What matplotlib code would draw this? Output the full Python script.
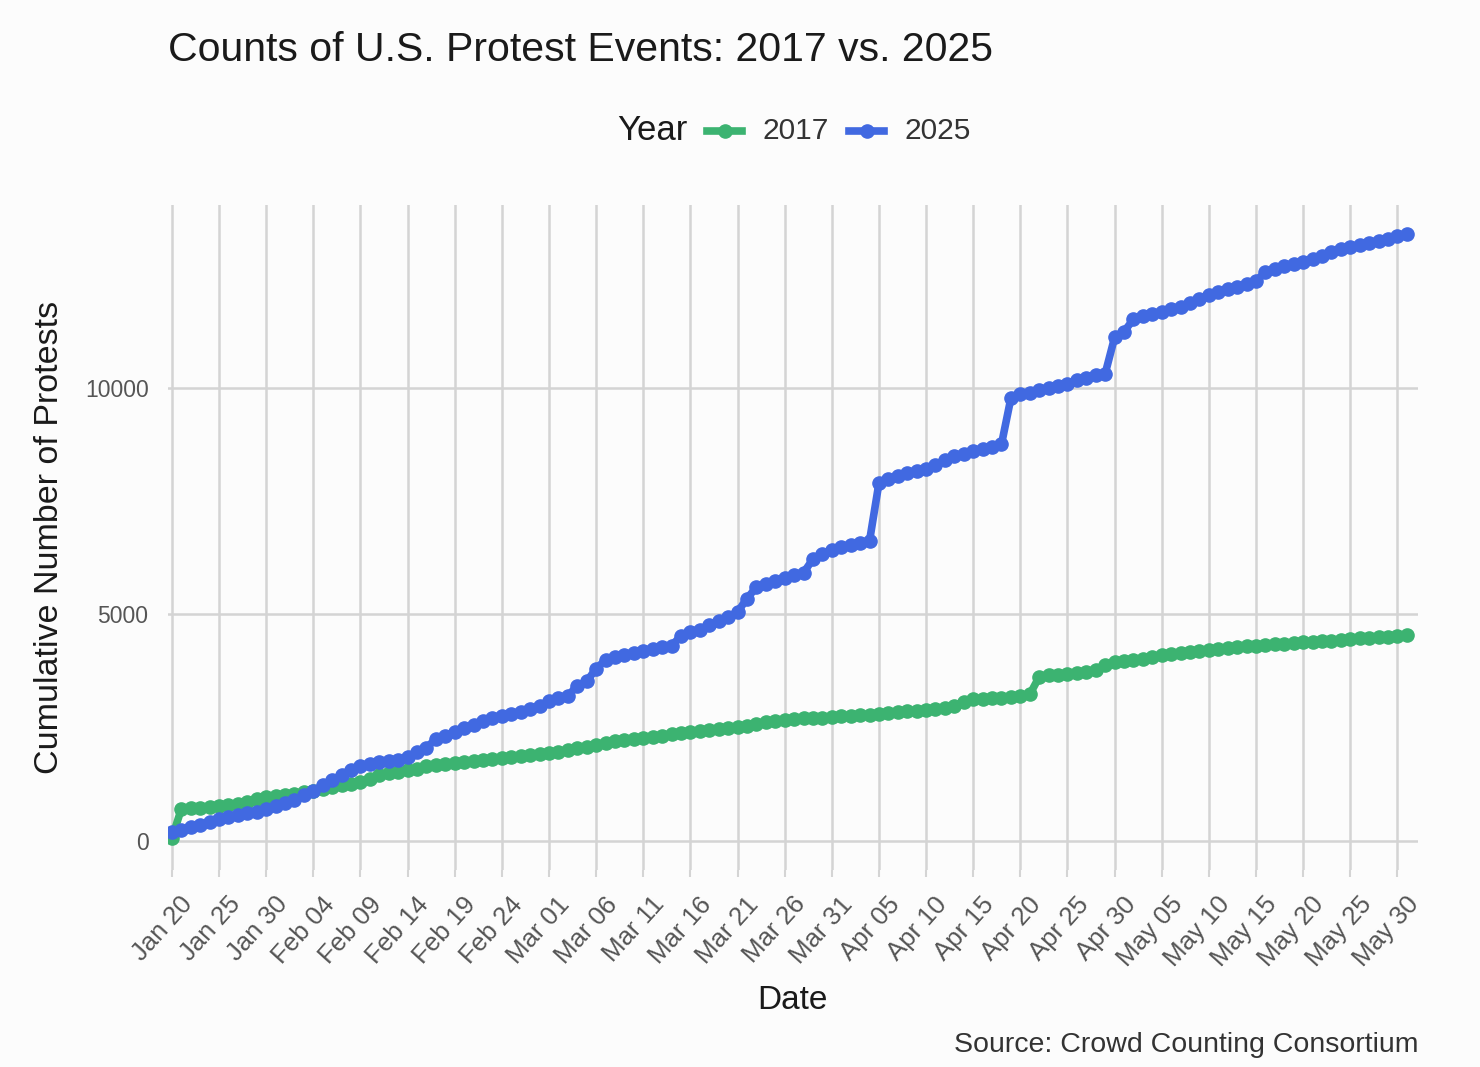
import numpy as np
import pandas as pd
import matplotlib
matplotlib.use('Agg')
import matplotlib.pyplot as plt
import matplotlib.transforms as mtrans
from matplotlib.lines import Line2D

# %%
# Cumulative protest counts, one value per day from Jan 20 to May 31
start_day = '2025-01-20'
end_day = '2025-05-31'

counts_2017 = [
    50, 700, 720, 730, 740, 760, 790, 820, 860, 920, 960, 990,          # Jan 20-31
    1010, 1040, 1070, 1100, 1150, 1190, 1220, 1260, 1300, 1360, 1460,  # Feb 1-11
    1500, 1520, 1550, 1590, 1640, 1670, 1690, 1710, 1740, 1760, 1780,  # Feb 12-22
    1800, 1830, 1850, 1870, 1890, 1910,                                # Feb 23-28
    1930, 1960, 2000, 2040, 2080, 2110, 2150, 2200, 2220, 2240, 2260,  # Mar 1-11
    2290, 2320, 2350, 2370, 2400, 2420, 2440, 2460, 2480, 2500, 2530,  # Mar 12-22
    2570, 2620, 2650, 2670, 2680, 2700, 2710, 2720, 2740,              # Mar 23-31
    2750, 2760, 2770, 2780, 2800, 2820, 2840, 2860, 2870, 2890, 2910,  # Apr 1-11
    2940, 2980, 3060, 3120, 3140, 3150, 3160, 3180, 3190, 3230, 3620,  # Apr 12-22
    3650, 3670, 3690, 3710, 3720, 3760, 3880, 3940,                    # Apr 23-30
    3970, 3990, 4020, 4060, 4100, 4130, 4150, 4170, 4190, 4210, 4230,  # May 1-11
    4250, 4270, 4290, 4310, 4320, 4340, 4350, 4360, 4380, 4390, 4410,  # May 12-22
    4420, 4440, 4460, 4470, 4480, 4500, 4510, 4520, 4540,              # May 23-31
]

counts_2025 = [
    180, 230, 290, 350, 420, 480, 520, 560, 600, 640, 690, 760,        # Jan 20-31
    830, 890, 1000, 1100, 1220, 1340, 1450, 1560, 1650, 1700, 1730,    # Feb 1-11
    1760, 1790, 1840, 1950, 2050, 2250, 2320, 2400, 2480, 2560, 2650,  # Feb 12-22
    2720, 2760, 2800, 2850, 2900, 2980,                                # Feb 23-28
    3080, 3160, 3200, 3420, 3520, 3800, 3990, 4050, 4100, 4140, 4180,  # Mar 1-11
    4230, 4270, 4310, 4520, 4620, 4660, 4760, 4860, 4950, 5050, 5350,  # Mar 12-22
    5600, 5680, 5740, 5800, 5860, 5920, 6220, 6330, 6420,              # Mar 23-31
    6480, 6530, 6580, 6620, 7900, 7990, 8050, 8120, 8170, 8220, 8300,  # Apr 1-11
    8420, 8490, 8550, 8600, 8650, 8700, 8760, 9780, 9860, 9900, 9960,  # Apr 12-22
    10000, 10050, 10100, 10170, 10230, 10280, 10320, 11120,            # Apr 23-30
    11250, 11520, 11600, 11640, 11680, 11740, 11800, 11880, 11970,     # May 1-9
    12060, 12120, 12180, 12240, 12300, 12370, 12560, 12630, 12690,     # May 10-18
    12740, 12790, 12850, 12920, 13000, 13070, 13120, 13160, 13200,     # May 19-27
    13250, 13300, 13360, 13410,                                        # May 28-31
]

years = ['2017', '2025']
colors = {'2017': '#3cb371', '2025': '#4169e1'}

dates = pd.date_range(start_day, end_day, freq='D')

FONT = 'Liberation Sans'
W, H = 1480, 1067

# %%
fig = plt.figure(figsize=(14.8, 10.67), dpi=100)
fig.patch.set_facecolor('#fcfcfc')
ax = fig.add_axes([0.1135, 0.1846, 0.8445, 0.6234])
ax.set_facecolor('#fcfcfc')

for yr, vals in zip(years, [counts_2017, counts_2025]):
    ax.plot(dates, vals, color=colors[yr], lw=5.5, marker='o', ms=9.5,
            solid_joinstyle='round', zorder=3)

# axis limits / ticks
ax.set_xlim(pd.Timestamp('2025-01-19 14:00'), pd.Timestamp('2025-06-01 04:00'))
ax.set_ylim(-650, 14050)
ticks = pd.date_range('2025-01-20', '2025-05-30', freq='5D')
ax.set_xticks(ticks)
ax.set_xticklabels([d.strftime('%b %d') for d in ticks], rotation=48,
                   ha='right', va='top', rotation_mode='anchor')
ax.set_yticks([0, 5000, 10000])
ax.set_yticklabels(['0', '5000', '10000'])

ax.grid(True, color='#d4d4d4', lw=1.8)
ax.set_axisbelow(True)
for s in ax.spines.values():
    s.set_visible(False)
ax.tick_params(axis='x', colors='#d4d4d4', length=5, width=1.5,
               labelcolor='#555555', labelsize=18.5, pad=11)
ax.tick_params(axis='y', length=0, labelcolor='#555555', labelsize=16.5, pad=14)
shift = mtrans.ScaledTranslation(8 / 100, 0, fig.dpi_scale_trans)
for lbl in ax.get_xticklabels():
    lbl.set_family(FONT)
    lbl.set_transform(lbl.get_transform() + shift)
for lbl in ax.get_yticklabels():
    lbl.set_family(FONT)

ax.set_xlabel('Date', fontsize=24, family=FONT, color='#1a1a1a', labelpad=10)
ax.set_ylabel('Cumulative Number of Protests', fontsize=24.5, family=FONT,
              color='#1a1a1a', labelpad=14)

fig.text(168 / W, 1 - 50 / H, 'Counts of U.S. Protest Events: 2017 vs. 2025',
         fontsize=29.5, family=FONT, color='#1a1a1a', ha='left', va='center')

# legend at the top, drawn by hand: title then two keys
ly = 1 - 131 / H
fig.text(617 / W, ly, 'Year', fontsize=25, family=FONT, color='#1a1a1a',
         ha='left', va='center')
key_x = {'2017': 707, '2025': 849}
for yr in years:
    x0 = key_x[yr]
    fig.add_artist(Line2D([x0 / W, (x0 + 35) / W], [ly, ly], color=colors[yr],
                          lw=5.5, transform=fig.transFigure))
    fig.add_artist(Line2D([(x0 + 17.5) / W], [ly], color=colors[yr], marker='o',
                          ms=9.5, transform=fig.transFigure))
    fig.text((x0 + 56) / W, ly, yr, fontsize=21.5, family=FONT, color='#333333',
             ha='left', va='center')

fig.text(1418 / W, 1 - 1045 / H, 'Source: Crowd Counting Consortium',
         fontsize=20.5, family=FONT, color='#333333', ha='right', va='center')

fig.savefig('out.png', dpi=100, facecolor=fig.get_facecolor())
